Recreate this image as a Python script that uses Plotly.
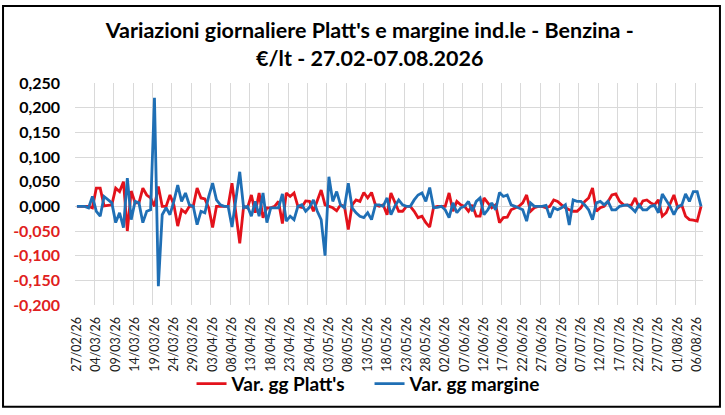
import pandas as pd
import plotly.graph_objects as go

# giorni dal 27/02/26 al 07/08/26
DATES = pd.date_range("2026-02-27", "2026-08-07", freq="D").strftime("%d/%m/%y").tolist()

PLATTS = [
    0, 0, 0, 0, -0.003, 0.037, 0.037, 0.001, 0.002, 0.003,
    0.037, 0.030, 0.050, -0.050, 0.031, 0.007, 0.007, 0.037, 0.023, 0.017,
    0.000, 0.040, 0.000, 0.000, 0.023, 0.003, -0.040, -0.007, -0.013, 0.000,
    0.000, 0.037, 0.017, 0.015, -0.003, -0.043, 0.000, 0.000, 0.000, 0.000,
    0.047, -0.015, -0.075, 0.000, -0.003, 0.023, -0.013, 0.027, -0.023, -0.003,
    -0.003, 0.000, 0.010, -0.035, 0.027, 0.020, 0.027, 0.000, -0.002, 0.011,
    0.010, -0.010, 0.010, 0.033, 0.003, 0.000, -0.003, -0.009, 0.003, 0.000,
    -0.047, 0.003, 0.013, 0.010, 0.028, 0.017, 0.028, 0.003, 0.000, 0.003,
    -0.017, 0.027, 0.007, -0.010, -0.010, 0.000, 0.000, -0.010, -0.023, -0.020,
    -0.033, -0.042, -0.002, 0.000, 0.000, 0.000, 0.027, -0.010, 0.010, 0.003,
    0.000, -0.010, 0.003, -0.020, -0.020, 0.017, 0.007, -0.003, 0.003, -0.033,
    -0.023, -0.022, -0.007, -0.003, 0.000, 0.007, 0.023, -0.010, -0.003, 0.000,
    0.000, -0.003, 0.000, 0.013, 0.010, 0.003, -0.003, -0.007, -0.010, -0.010,
    -0.003, 0.010, 0.017, 0.037, -0.010, -0.003, 0.000, 0.010, 0.023, 0.025,
    0.010, 0.003, 0.003, 0.002, 0.017, -0.003, 0.011, 0.013, 0.007, 0.003,
    0.013, -0.020, -0.013, 0.007, 0.023, -0.003, 0.003, -0.020, -0.027, -0.028,
    -0.030, 0.000,
]

MARGINE = [
    0, 0, 0, -0.003, 0.020, -0.010, -0.020, 0.020, 0.013, 0.007,
    -0.033, -0.013, -0.043, 0.057, -0.027, 0.010, 0.007, -0.033, -0.010, -0.007,
    0.220, -0.162, -0.017, -0.003, -0.017, 0.010, 0.043, 0.010, 0.027, 0.003,
    0.000, -0.037, -0.010, -0.013, 0.020, 0.047, 0.013, 0.003, 0.000, 0.000,
    -0.042, 0.015, 0.070, -0.003, 0.000, -0.020, 0.010, -0.020, 0.027, -0.033,
    -0.003, -0.003, -0.003, 0.025, -0.030, -0.020, -0.027, 0.000, 0.003, -0.010,
    -0.002, 0.013, -0.010, -0.027, -0.100, 0.060, 0.010, 0.030, 0.003, -0.003,
    0.047, -0.003, -0.013, -0.020, -0.023, -0.013, -0.027, 0.003, 0.003, 0.000,
    0.017, -0.017, 0.000, 0.013, 0.003, 0.000, 0.000, 0.013, 0.023, 0.027,
    0.010, 0.038, -0.003, -0.002, 0.000, -0.007, -0.023, 0.007, -0.013, -0.003,
    0.000, 0.010, -0.010, 0.010, 0.017, -0.017, -0.007, 0.007, -0.007, 0.028,
    0.020, 0.023, 0.003, 0.000, -0.003, -0.007, -0.030, 0.007, 0.000, 0.000,
    0.000, 0.002, -0.023, -0.003, -0.007, -0.003, 0.003, -0.038, 0.013, 0.010,
    0.010, 0.003, -0.007, -0.027, 0.007, 0.010, 0.003, 0.010, -0.007, -0.007,
    0.000, 0.002, 0.003, -0.003, -0.011, 0.003, -0.007, -0.007, 0.000, 0.002,
    -0.013, 0.025, 0.013, 0.000, -0.017, 0.000, 0.002, 0.025, 0.010, 0.030,
    0.030, 0.000,
]

Y_TICKS = [0.25, 0.2, 0.15, 0.1, 0.05, 0.0, -0.05, -0.1, -0.15, -0.2]

RED = "#E3121B"
BLUE = "#1F6FB5"
FONT = "Lato"

x = list(range(len(DATES)))
x_ticks = x[::5]
x_labels = DATES[::5]

y_labels = []
for v in Y_TICKS:
    s = "<b>" + ("%.3f" % v).replace(".", ",") + "</b>"
    if v < 0:
        s = '<span style="color:#E02020">%s</span>' % s
    y_labels.append(s)

fig = go.Figure()
fig.add_trace(go.Scatter(x=x, y=PLATTS, name="<b>Var. gg Platt's</b>", mode="lines",
                         line=dict(color=RED, width=2.8)))
fig.add_trace(go.Scatter(x=x, y=MARGINE, name="<b>Var. gg margine</b>", mode="lines",
                         line=dict(color=BLUE, width=2.8)))

fig.update_layout(
    width=725, height=415,
    margin=dict(l=75, r=22, t=83, b=107),
    paper_bgcolor="white", plot_bgcolor="white",
    font=dict(family=FONT, color="#000000"),
    title=dict(text="<b>Variazioni giornaliere Platt's e margine ind.le - Benzina -<br>€/lt - 27.02-07.08.2026</b>",
               x=0.51, xanchor="center", y=1 - 38 / 415, yanchor="middle",
               font=dict(size=21.5, family=FONT, color="#000000")),
    showlegend=True,
    legend=dict(orientation="h", x=0.469, xanchor="center", y=-0.355, yanchor="middle",
                bgcolor="rgba(0,0,0,0)",
                font=dict(size=19, family=FONT, color="#000000"), itemwidth=30,
                entrywidth=133, entrywidthmode="pixels"),
    xaxis=dict(range=[-0.5, len(DATES) - 0.5], tickmode="array", tickvals=x_ticks,
               ticktext=x_labels, tickangle=-90, showgrid=False, zeroline=False,
               tickfont=dict(size=12.5, family=FONT, color="#1A1A1A"),
               ticks="outside", ticklen=6, tickcolor="rgba(0,0,0,0)",
               minor=dict(tick0=-0.5, dtick=5, ticks="", showgrid=True,
                          gridcolor="#D9D9D9", gridwidth=1)),
    yaxis=dict(range=[-0.2, 0.25], tickmode="array", tickvals=Y_TICKS, ticktext=y_labels,
               showgrid=True, gridcolor="#D9D9D9", gridwidth=1, zeroline=False,
               tickfont=dict(size=16, family=FONT, color="#000000"), ticks="",
               ticklabelstandoff=14),
    shapes=[dict(type="rect", xref="paper", yref="paper",
                 x0=-0.1146, x1=1.027, y0=-0.458, y1=1.347,
                 line=dict(color="#000000", width=2))],
)

fig.write_html("out.html", config={"displayModeBar": False},
               post_script="document.body.style.margin='0';")
